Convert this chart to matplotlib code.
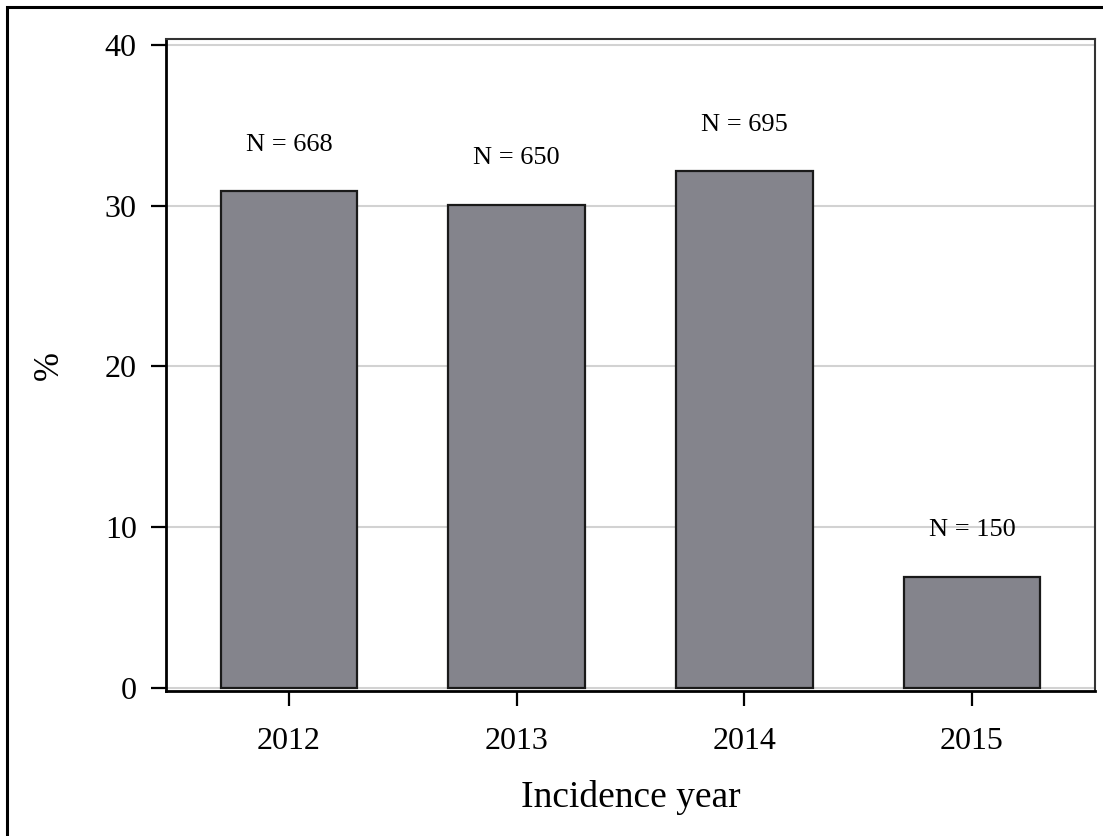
import matplotlib
matplotlib.use('Agg')
import matplotlib.pyplot as plt
from matplotlib.patches import Rectangle
import numpy as np

plt.rcParams['font.family'] = ['Liberation Serif', 'DejaVu Serif']

years = ['2012', '2013', '2014', '2015']
percent = [30.9, 30.05, 32.15, 6.9]
counts = [668, 650, 695, 150]

BAR_COLOR = '#84848c'
LABEL_OFFSET = 2.9

fig = plt.figure(figsize=(11.03, 8.36), dpi=100)
ax = fig.add_axes([166 / 1103, 145 / 836, 929 / 1103, 652 / 836])

# outer frame round the whole graph
fig.patches.append(Rectangle((7 / 1103, -0.05), 1.2, (836 - 7) / 836 + 0.05,
                             transform=fig.transFigure, fill=False,
                             edgecolor='black', linewidth=2.2, zorder=0))

x = np.arange(len(years))
ax.bar(x, percent, width=0.6, color=BAR_COLOR, edgecolor='#1a1a1a',
       linewidth=1.6, zorder=3)

for xi, p, n in zip(x, percent, counts):
    ax.text(xi, p + LABEL_OFFSET, f'N = {n}', ha='center', va='center',
            fontsize=19, zorder=4)

ax.set_xlim(-0.54, 3.54)
ax.set_ylim(-0.19, 40.37)
ax.set_xticks(x)
ax.set_xticklabels(years)
ax.set_yticks([0, 10, 20, 30, 40])

ax.grid(axis='y', color='#d2d2d2', linewidth=1.5, zorder=0)
ax.set_axisbelow(True)

ax.tick_params(axis='both', direction='out', length=11, width=1.6,
               labelsize=23, color='black')
ax.tick_params(axis='x', pad=15)
ax.tick_params(axis='y', pad=10)

for side in ['left', 'bottom']:
    ax.spines[side].set_linewidth(2.0)
    ax.spines[side].set_color('black')
for side in ['top', 'right']:
    ax.spines[side].set_linewidth(1.5)
    ax.spines[side].set_color('#333333')

ax.set_xlabel('Incidence year', fontsize=27, va='center')
ax.xaxis.set_label_coords(0.5, -0.163)
ax.set_ylabel('%', fontsize=25, va='center')
ax.yaxis.set_label_coords(-0.126, 0.5)

plt.savefig('out.png', dpi=100)
